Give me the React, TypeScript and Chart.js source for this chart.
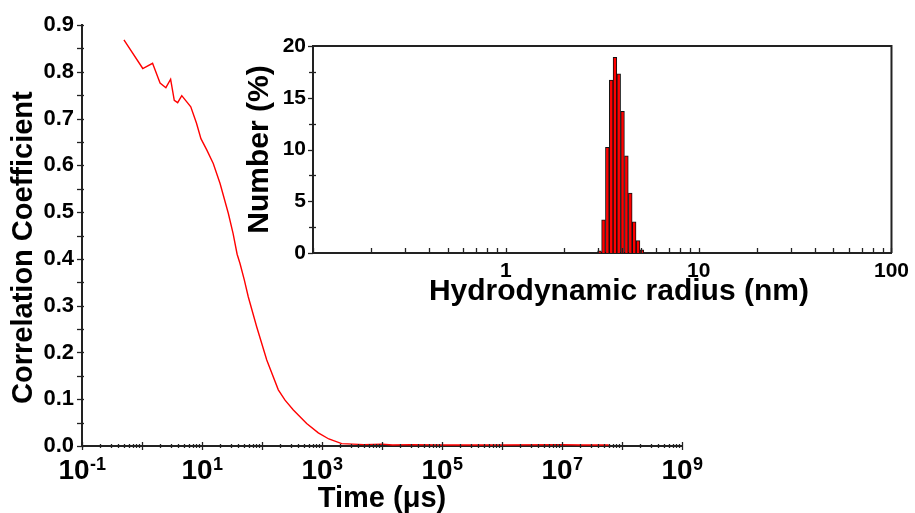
import React, { useEffect, useRef } from "react";
import { Chart, registerables } from "chart.js";

Chart.register(...registerables);

// ---- Main plot: correlation function ----
const timeUs = [0.5, 1.03, 1.5, 2.0, 2.5, 3.0, 3.45, 3.93, 4.6, 6.5, 8.1, 9.6, 12, 15.4, 20, 27.5, 33, 38.5, 43, 50.7, 59, 81.5, 120, 187, 242, 333, 555, 868, 1300, 2130, 5000, 1e4, 1.5e4, 3e4, 1e5, 1e6, 1e7, 2e7, 6e7];
const correlation = [0.868, 0.807, 0.818, 0.776, 0.766, 0.784, 0.739, 0.734, 0.749, 0.725, 0.69, 0.657, 0.633, 0.604, 0.561, 0.497, 0.454, 0.41, 0.39, 0.355, 0.319, 0.255, 0.184, 0.12, 0.098, 0.077, 0.048, 0.028, 0.015, 0.005, 0.003, 0.004, 0.002, 0.003, 0.002, 0.002, 0.003, 0.002, 0.002];
const timeMinExp = -1;
const timeMaxExp = 9;
const timeLabelExps = [-1, 1, 3, 5, 7, 9];
const corrMin = 0;
const corrMax = 0.9;
const corrTickStep = 0.05;
const corrLabelStep = 0.1;

// ---- Inset: size distribution ----
const radiusNm = [3.06, 3.21, 3.36, 3.52, 3.68, 3.85, 4.03, 4.22, 4.42, 4.63, 4.85, 5.08];
const numberPct = [0.2, 3.2, 10.2, 16.7, 18.9, 17.3, 13.7, 9.4, 5.8, 3.0, 1.2, 0.3];
const radiusMinExp = -1;
const radiusMaxExp = 2;
const radiusLabels = [1, 10, 100];
const numberMin = 0;
const numberMax = 20;
const numberTickStep = 2.5;
const numberLabelStep = 5;

const FAMILY = "'Liberation Sans', Arial, Helvetica, sans-serif";
const AXIS_COLOR = "#222";

function decadeTicks(minExp: number, maxExp: number): number[] {
  const out: number[] = [];
  for (let e = minExp; e < maxExp; e++) {
    for (let m = 1; m <= 9; m++) out.push(Number((m * Math.pow(10, e)).toPrecision(12)));
  }
  out.push(Math.pow(10, maxExp));
  return out;
}

function stepTicks(min: number, max: number, step: number): number[] {
  const out: number[] = [];
  const n = Math.round((max - min) / step);
  for (let i = 0; i <= n; i++) out.push(Number((min + i * step).toFixed(6)));
  return out;
}

const isDecade = (v: number) => Math.abs(Math.log10(v) - Math.round(Math.log10(v))) < 1e-9;
const isMultiple = (v: number, s: number) => Math.abs(v / s - Math.round(v / s)) < 1e-6;

type TickSpec = {
  id: string;
  major: (v: number) => boolean;
  majorLen: [number, number];
  minorLen: [number, number];
};

function crossTicksPlugin(specs: TickSpec[], frame: boolean, powerLabels?: { id: string; exps: number[] }) {
  return {
    id: "crossTicks",
    afterDatasetsDraw(chart: any) {
      const ctx = chart.ctx as CanvasRenderingContext2D;
      const area = chart.chartArea;
      ctx.save();
      ctx.strokeStyle = AXIS_COLOR;
      ctx.lineWidth = 1.3;
      for (const sp of specs) {
        const s = chart.scales[sp.id];
        if (!s) continue;
        for (const t of s.ticks) {
          const p = Math.round(s.getPixelForValue(t.value)) + 0.5;
          const [outLen, inLen] = sp.major(t.value) ? sp.majorLen : sp.minorLen;
          ctx.beginPath();
          if (s.isHorizontal()) {
            const y = area.bottom;
            ctx.moveTo(p, y - inLen);
            ctx.lineTo(p, y + outLen);
          } else {
            const x = area.left;
            ctx.moveTo(x - outLen, p);
            ctx.lineTo(x + inLen, p);
          }
          ctx.stroke();
        }
      }
      if (frame) {
        ctx.lineWidth = 2;
        ctx.beginPath();
        ctx.moveTo(area.left, area.top);
        ctx.lineTo(area.right, area.top);
        ctx.lineTo(area.right, area.bottom);
        ctx.stroke();
      }
      if (powerLabels) {
        const s = chart.scales[powerLabels.id];
        const baseFont = `bold 28px ${FAMILY}`;
        const expFont = `bold 18px ${FAMILY}`;
        ctx.fillStyle = "#000";
        ctx.textAlign = "left";
        ctx.textBaseline = "alphabetic";
        const baseY = area.bottom + 33;
        for (const e of powerLabels.exps) {
          const px = s.getPixelForValue(Math.pow(10, e));
          const expText = e < 0 ? "-" + String(-e) : String(e);
          ctx.font = baseFont;
          const w1 = ctx.measureText("10").width;
          ctx.font = expFont;
          const w2 = ctx.measureText(expText).width;
          const x0 = px - (w1 + w2) / 2;
          ctx.font = baseFont;
          ctx.fillText("10", x0, baseY);
          ctx.font = expFont;
          ctx.fillText(expText, x0 + w1 + 0.5, baseY - 9);
        }
      }
      ctx.restore();
    },
  };
}

export default function App() {
  const mainRef = useRef<HTMLCanvasElement | null>(null);
  const insetRef = useRef<HTMLCanvasElement | null>(null);

  useEffect(() => {
    if (!mainRef.current || !insetRef.current) return;
    const timeTicks = decadeTicks(timeMinExp, timeMaxExp);
    const corrTicks = stepTicks(corrMin, corrMax, corrTickStep);
    const radiusTicks = decadeTicks(radiusMinExp, radiusMaxExp);
    const numberTicks = stepTicks(numberMin, numberMax, numberTickStep);

    const main = new Chart(mainRef.current, {
      type: "line",
      data: {
        datasets: [
          {
            data: timeUs.map((t, i) => ({ x: t, y: correlation[i] })),
            borderColor: "#ff0000",
            borderWidth: 1.4,
            pointRadius: 0,
            tension: 0,
            fill: false,
          },
        ],
      },
      options: {
        responsive: false,
        animation: false,
        layout: { padding: { top: 25, right: 233, bottom: 0, left: 0 } },
        plugins: { legend: { display: false }, tooltip: { enabled: false } },
        scales: {
          x: {
            type: "logarithmic",
            min: Math.pow(10, timeMinExp),
            max: Math.pow(10, timeMaxExp),
            afterBuildTicks: (s: any) => {
              s.ticks = timeTicks.map((v) => ({ value: v }));
            },
            afterFit: (s: any) => {
              s.height = 67;
            },
            grid: { display: false, drawTicks: false },
            border: { display: true, color: AXIS_COLOR, width: 2 },
            ticks: { display: false, autoSkip: false, maxRotation: 0 },
            title: {
              display: true,
              text: "Time (\u03BCs)",
              color: "#000",
              font: { family: FAMILY, size: 29, weight: "bold", lineHeight: 1 },
              padding: 0,
            },
          },
          y: {
            type: "linear",
            min: corrMin,
            max: corrMax,
            afterBuildTicks: (s: any) => {
              s.ticks = corrTicks.map((v) => ({ value: v }));
            },
            afterFit: (s: any) => {
              s.width = 82;
            },
            grid: { display: false, drawTicks: false },
            border: { display: true, color: AXIS_COLOR, width: 2 },
            ticks: {
              autoSkip: false,
              padding: 8,
              color: "#000",
              font: { family: FAMILY, size: 22, weight: "bold" },
              callback: (v: any) => (isMultiple(Number(v), corrLabelStep) ? Number(v).toFixed(1) : ""),
            },
            title: {
              display: true,
              text: "Correlation Coefficient\u00A0\u00A0\u00A0",
              color: "#000",
              font: { family: FAMILY, size: 29, weight: "bold", lineHeight: 1 },
              padding: { top: 9, bottom: 0 },
            },
          },
        },
      },
      plugins: [
        crossTicksPlugin(
          [
            { id: "x", major: isDecade, majorLen: [4, 4], minorLen: [2, 2] },
            { id: "y", major: (v) => isMultiple(v, corrLabelStep), majorLen: [5, 2], minorLen: [5, 2] },
          ],
          false,
          { id: "x", exps: timeLabelExps }
        ),
      ],
    } as any);

    const inset = new Chart(insetRef.current, {
      type: "bar",
      data: {
        datasets: [
          {
            data: radiusNm.map((r, i) => ({ x: r, y: numberPct[i] })),
            backgroundColor: "#ff0000",
            borderColor: "#111",
            borderWidth: 1,
            barPercentage: 1,
            categoryPercentage: 1,
          },
        ],
      },
      options: {
        responsive: false,
        animation: false,
        layout: { padding: { top: 46, right: 22, bottom: 0, left: 0 } },
        plugins: { legend: { display: false }, tooltip: { enabled: false } },
        scales: {
          x: {
            type: "logarithmic",
            offset: false,
            min: Math.pow(10, radiusMinExp),
            max: Math.pow(10, radiusMaxExp),
            afterBuildTicks: (s: any) => {
              s.ticks = radiusTicks.map((v) => ({ value: v }));
            },
            afterFit: (s: any) => {
              s.height = 57;
            },
            grid: { display: false, drawTicks: false, offset: false },
            border: { display: true, color: AXIS_COLOR, width: 2 },
            ticks: {
              autoSkip: false,
              maxRotation: 0,
              padding: 6,
              color: "#000",
              font: { family: FAMILY, size: 21, weight: "bold" },
              callback: (v: any) => {
                const val = Number(v);
                return radiusLabels.some((l) => Math.abs(l - val) < 1e-9) ? String(val) : "";
              },
            },
            title: {
              display: true,
              text: "\u00A0\u00A0\u00A0\u00A0Hydrodynamic radius (nm)",
              color: "#000",
              font: { family: FAMILY, size: 30, weight: "bold", lineHeight: 1 },
              padding: { top: 0, bottom: 3 },
            },
          },
          y: {
            type: "linear",
            min: numberMin,
            max: numberMax,
            afterBuildTicks: (s: any) => {
              s.ticks = numberTicks.map((v) => ({ value: v }));
            },
            afterFit: (s: any) => {
              s.width = 83;
            },
            grid: { display: false, drawTicks: false },
            border: { display: true, color: AXIS_COLOR, width: 2 },
            ticks: {
              autoSkip: false,
              padding: 7,
              color: "#000",
              font: { family: FAMILY, size: 21, weight: "bold" },
              callback: (v: any) => (isMultiple(Number(v), numberLabelStep) ? String(Number(v)) : ""),
            },
            title: {
              display: true,
              text: "Number (%)",
              color: "#000",
              font: { family: FAMILY, size: 30, weight: "bold", lineHeight: 1 },
              padding: { top: 15, bottom: 0 },
            },
          },
        },
      },
      plugins: [
        crossTicksPlugin(
          [
            { id: "x", major: isDecade, majorLen: [0, 5], minorLen: [0, 5] },
            { id: "y", major: (v) => isMultiple(v, numberLabelStep), majorLen: [5, 0], minorLen: [4, 3] },
          ],
          true
        ),
      ],
    } as any);

    return () => {
      main.destroy();
      inset.destroy();
    };
  }, []);

  return (
    <div style={{ position: "fixed", left: 0, top: 0, width: 915, height: 513, background: "#fff", overflow: "hidden" }}>
      <canvas ref={mainRef} width={915} height={513} style={{ position: "absolute", left: 0, top: 0, width: 915, height: 513 }} />
      <canvas ref={insetRef} width={685} height={310} style={{ position: "absolute", left: 230, top: 0, width: 685, height: 310 }} />
    </div>
  );
}
